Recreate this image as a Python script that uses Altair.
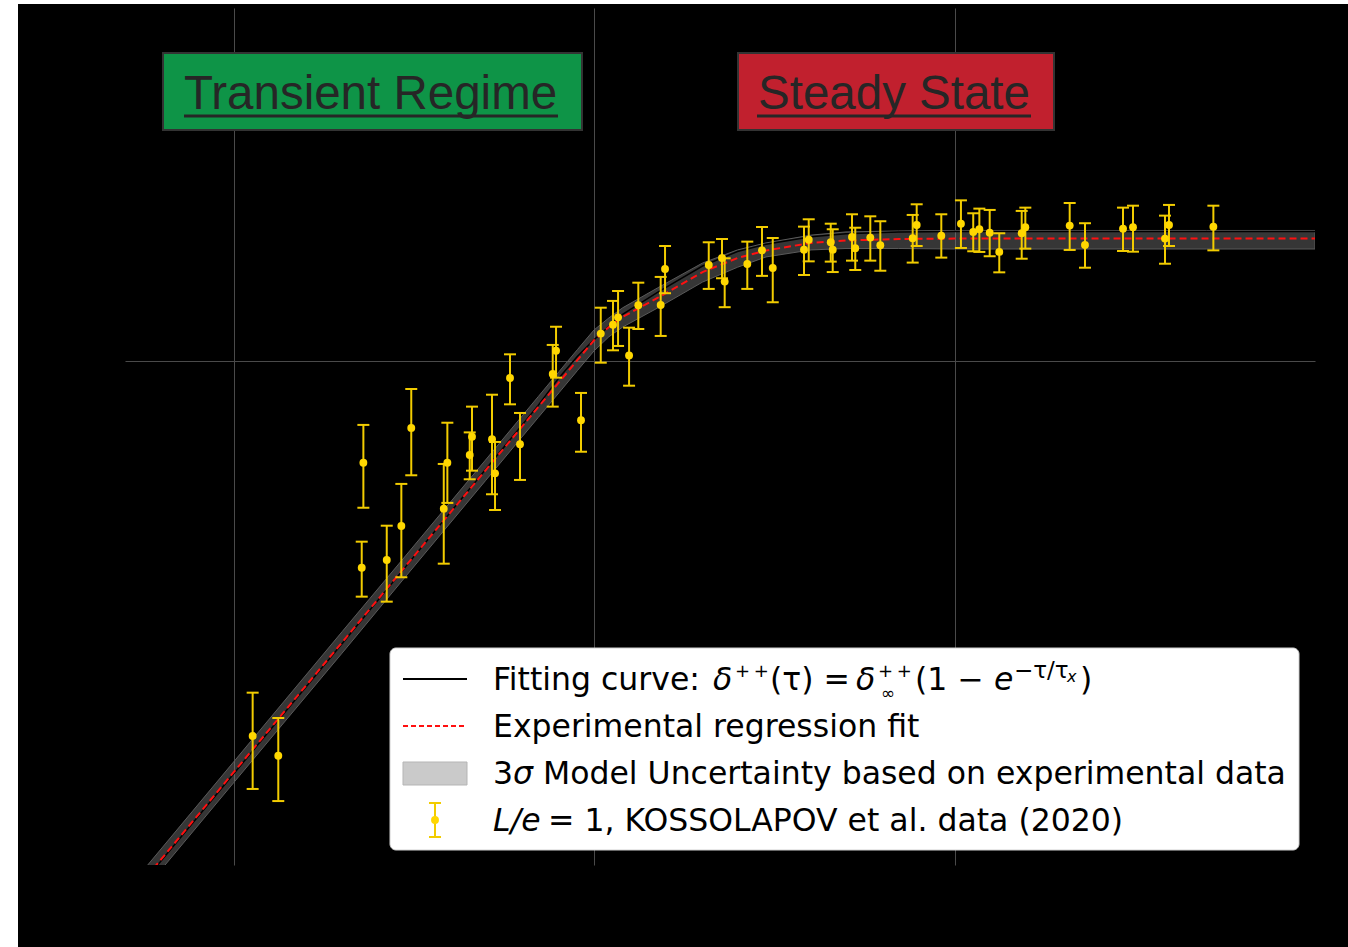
import altair as alt
import pandas as pd

# ---------------- data ----------------
tau = [1.130, 1.331, 2.292, 2.268, 2.661, 2.921, 3.112, 3.830, 3.919, 4.521,
       4.587, 5.213, 5.314, 5.848, 6.233, 7.682, 7.846, 9.203, 10.44, 11.29,
       11.66, 12.51, 13.27, 15.31, 15.74, 20.81, 22.65, 23.04, 26.62, 29.24,
       31.32, 38.24, 39.41, 45.36, 45.94, 51.95, 53.05, 58.40, 62.26, 76.56,
       78.54, 91.91, 104.2, 112.7, 117.2, 125.2, 133.1, 153.6, 157.2, 208.7,
       230.1, 293.4, 312.7, 383.6, 393.6, 522.5]
delta = [0.1802, 0.1647, 0.6273, 0.3885, 0.4024, 0.4699, 0.7353, 0.5086, 0.6273, 0.6498,
         0.7067, 0.6983, 0.5977, 0.9236, 0.6825, 0.9406, 1.046, 0.7615, 1.131, 1.178,
         1.218, 1.024, 1.287, 1.289, 1.519, 1.547, 1.597, 1.434, 1.554, 1.654,
         1.526, 1.659, 1.736, 1.716, 1.659, 1.758, 1.670, 1.753, 1.693, 1.748,
         1.857, 1.768, 1.868, 1.799, 1.821, 1.793, 1.642, 1.788, 1.838, 1.852,
         1.695, 1.826, 1.838, 1.745, 1.857, 1.843]
delta_hi = [0.2196, 0.1956, 0.7455, 0.4375, 0.4706, 0.5695, 0.8784, 0.6238, 0.7530, 0.7205,
            0.8104, 0.8557, 0.6897, 1.029, 0.7873, 1.074, 1.167, 0.8627, 1.273, 1.313,
            1.374, 1.162, 1.427, 1.465, 1.687, 1.716, 1.742, 1.595, 1.721, 1.840,
            1.750, 1.843, 1.906, 1.868, 1.821, 1.950, 1.834, 1.932, 1.889, 1.944,
            2.041, 1.950, 2.078, 1.959, 2.001, 1.989, 1.788, 1.980, 2.010, 2.053,
            1.872, 2.010, 2.028, 1.938, 2.035, 2.028]
delta_lo = [0.1415, 0.1339, 0.5108, 0.3404, 0.3327, 0.3719, 0.5924, 0.3957, 0.5222, 0.5817,
            0.6050, 0.5432, 0.5056, 0.8190, 0.5799, 0.8104, 0.9250, 0.6596, 0.9904, 1.048,
            1.069, 0.8917, 1.155, 1.119, 1.360, 1.387, 1.456, 1.276, 1.387, 1.472,
            1.305, 1.478, 1.573, 1.571, 1.498, 1.578, 1.512, 1.578, 1.507, 1.564,
            1.687, 1.600, 1.672, 1.647, 1.642, 1.610, 1.496, 1.592, 1.667, 1.657,
            1.528, 1.649, 1.644, 1.556, 1.687, 1.654]

curve_tau = [0.4, 0.5, 1, 2, 3, 5, 7, 8, 9, 10, 11, 12, 15, 20, 25, 30, 40, 50, 70,
             100, 200, 500, 1000]
fit_regression = [0.0695, 0.0842, 0.1526, 0.2762, 0.3911, 0.6058, 0.8083, 0.9061, 1.003,
                  1.097, 1.166, 1.220, 1.331, 1.498, 1.597, 1.653, 1.711, 1.730, 1.742,
                  1.745, 1.745, 1.745, 1.745]
fit_model = [0.0690, 0.0836, 0.1515, 0.2745, 0.3900, 0.6080, 0.8150, 0.9250, 1.020,
             1.100, 1.170, 1.235, 1.365, 1.540, 1.645, 1.700, 1.760, 1.785, 1.798,
             1.803, 1.803, 1.803, 1.803]
band_upper = [0.0729, 0.0883, 0.160, 0.290, 0.410, 0.635, 0.848, 0.951, 1.052, 1.150,
              1.215, 1.272, 1.393, 1.561, 1.657, 1.711, 1.773, 1.799, 1.807, 1.811,
              1.811, 1.811, 1.811]
band_lower = [0.0663, 0.0803, 0.1455, 0.263, 0.373, 0.578, 0.771, 0.864, 0.956, 1.045,
              1.115, 1.165, 1.271, 1.431, 1.531, 1.605, 1.657, 1.668, 1.668, 1.664,
              1.664, 1.664, 1.664]

x_ticks = [1, 10, 100]
y_ticks = [1]

pts = pd.DataFrame({"tau": tau, "delta": delta, "hi": delta_hi, "lo": delta_lo})
crv = pd.DataFrame({"tau": curve_tau, "red": fit_regression, "black": fit_model,
                    "upper": band_upper, "lower": band_lower})
one = pd.DataFrame({"k": [0]})

W, H = 1190, 857
GRID = "#4a4a4a"
xs = alt.Scale(type="log", domain=[0.5, 1000], nice=False)
ys = alt.Scale(type="log", domain=[0.1, 5], nice=False)
xax = alt.Axis(values=x_ticks, grid=True, gridColor=GRID, gridWidth=1, labels=False,
               ticks=False, domain=False, title="")
yax = alt.Axis(values=y_ticks, grid=True, gridColor=GRID, gridWidth=1, labels=False,
               ticks=False, domain=False, title="")

X = alt.X("tau:Q", scale=xs, axis=xax)

band = alt.Chart(crv).mark_area(color="#808080", fillOpacity=0.42, stroke="#5a5a5a",
                                strokeWidth=1, clip=True).encode(
    x=X, y=alt.Y("upper:Q", scale=ys, axis=yax), y2="lower:Q")
model = alt.Chart(crv).mark_line(color="#000000", strokeWidth=1.5, clip=True).encode(
    x=X, y=alt.Y("black:Q", scale=ys, axis=yax))
regr = alt.Chart(crv).mark_line(color="#ff1010", strokeWidth=2, strokeDash=[7, 4],
                                clip=True).encode(
    x=X, y=alt.Y("red:Q", scale=ys, axis=yax))

GOLD = "#ffd700"
BAR = "#f2cc00"
bars = alt.Chart(pts).mark_rule(color=BAR, strokeWidth=2).encode(
    x=X, y=alt.Y("lo:Q", scale=ys, axis=yax), y2="hi:Q")
cap_hi = alt.Chart(pts).mark_point(shape="M-1,0H1", size=144, filled=False, color=BAR,
                                   strokeWidth=2, opacity=1).encode(
    x=X, y=alt.Y("hi:Q", scale=ys, axis=yax))
cap_lo = alt.Chart(pts).mark_point(shape="M-1,0H1", size=144, filled=False, color=BAR,
                                   strokeWidth=2, opacity=1).encode(
    x=X, y=alt.Y("lo:Q", scale=ys, axis=yax))
dots = alt.Chart(pts).mark_circle(size=62, color=GOLD, opacity=1).encode(
    x=X, y=alt.Y("delta:Q", scale=ys, axis=yax))


# ---------------- annotation helpers (layout, pixels in plot coords) ----------------
def rect(x1, x2, y1, y2, fill, stroke="#333333", sw=2, radius=0):
    return alt.Chart(one).mark_rect(color=fill, stroke=stroke, strokeWidth=sw,
                                    cornerRadius=radius).encode(
        x=alt.value(x1), x2=alt.value(x2), y=alt.value(y1), y2=alt.value(y2))


def hline(x1, x2, y, color, sw, dash=None):
    kw = dict(color=color, strokeWidth=sw)
    if dash:
        kw["strokeDash"] = dash
    return alt.Chart(one).mark_rule(**kw).encode(
        x=alt.value(x1), x2=alt.value(x2), y=alt.value(y))


def txt(s, x, y, size, italic=False, font="DejaVu Sans", color="#000000"):
    return alt.Chart(one).mark_text(text=s, align="left", baseline="alphabetic", font=font,
                                    fontSize=size, fontStyle="italic" if italic else "normal",
                                    color=color).encode(x=alt.value(x), y=alt.value(y))


TXT = "#262626"
TF = "Liberation Sans"
titles = [
    rect(38, 457, 45, 122, "#0e9447"),
    txt("Transient Regime", 59, 101, 47.5, font=TF, color=TXT),
    hline(59, 433, 108, TXT, 3),
    rect(613, 929, 45, 122, "#c1202e"),
    txt("Steady State", 633, 101, 47.5, font=TF, color=TXT),
    hline(632, 906, 108, TXT, 3),
]

FS = 31.5
SUP = 18
PP = "+\u2009+"
r1, r2, r3, r4 = 682, 729, 776, 823
legend = [
    rect(265, 1174, 640, 842, "#ffffff", stroke="#d0d0d0", sw=1, radius=6),
    hline(278, 342, 671, "#000000", 2),
    hline(278, 342, 718, "#ff1010", 2, dash=[5, 3]),
    rect(278, 342, 754, 777, "#cacaca", stroke="#b5b5b5", sw=1),
    alt.Chart(one).mark_rule(color=BAR, strokeWidth=2).encode(
        x=alt.value(310), y=alt.value(795), y2=alt.value(829)),
    hline(304, 316, 795, BAR, 2),
    hline(304, 316, 829, BAR, 2),
    alt.Chart(one).mark_circle(size=62, color=GOLD, opacity=1).encode(
        x=alt.value(310), y=alt.value(812)),
    # line 1 : Fitting curve with math
    txt("Fitting curve:", 368, r1, FS),
    txt("δ", 588, r1, FS, italic=True),
    txt(PP, 610, r1 - 13, SUP),
    txt("(τ) =", 645, r1, FS),
    txt("δ", 731, r1, FS, italic=True),
    txt(PP, 753, r1 - 13, SUP),
    txt("∞", 756, r1 + 9, 17),
    txt("(1 −", 790, r1, FS),
    txt("e", 869, r1, FS, italic=True),
    txt("−τ/τ", 889, r1 - 12, 23),
    txt("x", 942, r1 - 8, 16, italic=True),
    txt(")", 955, r1, FS),
    # line 2
    txt("Experimental regression fit", 368, r2, FS),
    # line 3
    txt("3", 368, r3, FS),
    txt("σ", 388, r3, FS, italic=True),
    txt("Model Uncertainty based on experimental data", 418, r3, FS),
    # line 4
    txt("L/e", 368, r4, FS, italic=True),
    txt("= 1, KOSSOLAPOV et al. data (2020)", 423, r4, FS),
]

strips = [
    rect(-125, -107, -8, 939, "#ffffff", stroke="#ffffff", sw=0),
    rect(-125, 1223, -8, -4, "#ffffff", stroke="#ffffff", sw=0),
]

chart = alt.layer(band, model, regr, bars, cap_hi, cap_lo, dots,
                  *titles, *legend, *strips).properties(
    width=W, height=H,
    autosize=alt.AutoSizeParams(type="none"),
    padding={"left": 125, "top": 8, "right": 33, "bottom": 82},
    background="#000000",
).configure_view(strokeWidth=0)

chart.save("out.html", embed_options={"renderer": "svg", "actions": False})
